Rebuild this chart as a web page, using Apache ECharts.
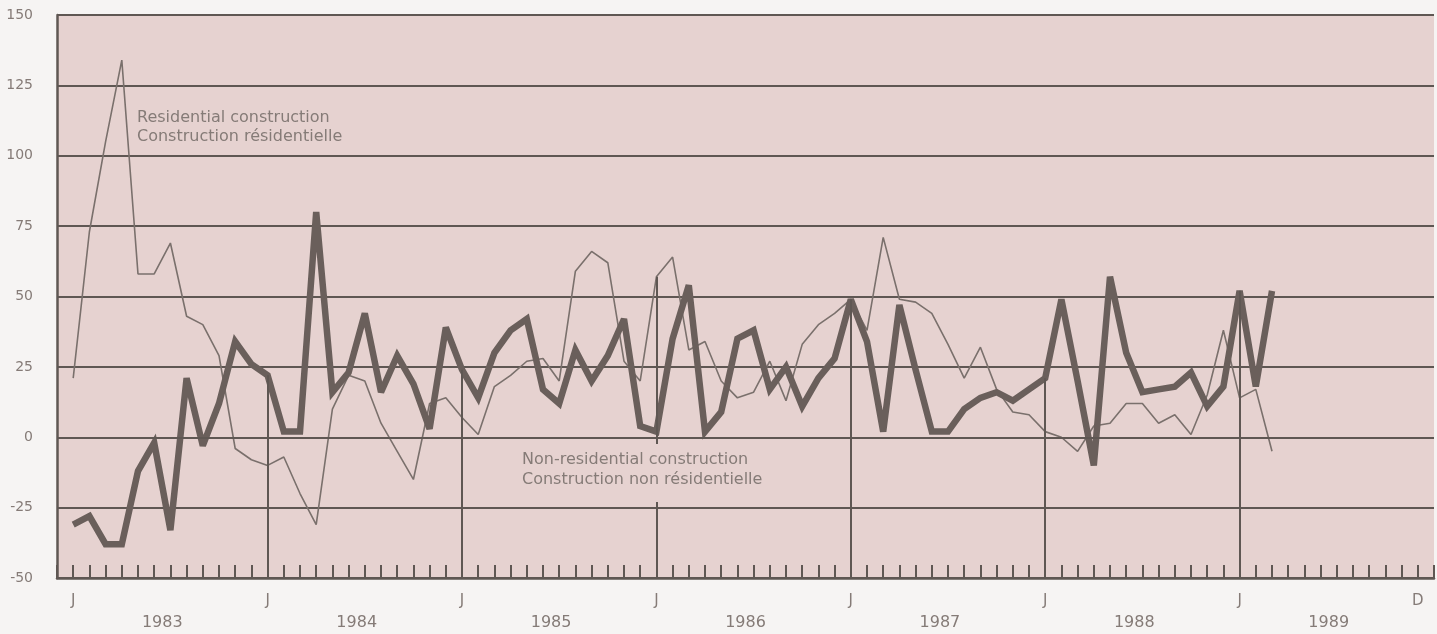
<!DOCTYPE html>
<html><head><meta charset="utf-8">
<script src="https://cdn.jsdelivr.net/npm/echarts@6/dist/echarts.min.js"></script>
<style>html,body{margin:0;padding:0;background:#f6f4f3;}#c{width:1437px;height:634px;}</style>
</head><body><div id="c"></div>
<script>
// Monthly index 0 = January 1983 ... 83 = December 1989
const years = ['1983','1984','1985','1986','1987','1988','1989'];
const residential = [
  21, 73, 105, 134, 58, 58, 69, 43, 40, 29, -4, -8,
  -10, -7, -20, -31, 10, 22, 20, 5, -5, -15, 12, 14,
  7, 1, 18, 22, 27, 28, 20, 59, 66, 62, 27, 20,
  57, 64, 31, 34, 20, 14, 16, 27, 13, 33, 40, 44,
  49, 38, 71, 49, 48, 44, 33, 21, 32, 17, 9, 8,
  2, 0, -5, 4, 5, 12, 12, 5, 8, 1, 15, 38,
  14, 17, -5
];
const nonResidential = [
  -31, -28, -38, -38, -12, -2, -33, 21, -3, 12, 34, 26,
  22, 2, 2, 80, 16, 23, 44, 16, 29, 19, 3, 39,
  24, 14, 30, 38, 42, 17, 12, 31, 20, 29, 42, 4,
  2, 35, 54, 2, 9, 35, 38, 17, 25, 11, 21, 28,
  49, 34, 2, 47, 24, 2, 2, 10, 14, 16, 13, 17,
  21, 49, 20, -10, 57, 30, 16, 17, 18, 23, 11, 18,
  52, 18, 52
];
const yMin = -50, yMax = 150, yStep = 25;
const totalMonths = years.length * 12;

const ink = '#5f5753';
const plotBg = '#e6d2d0';
const textCol = '#857b77';

const resData = residential.map((v, i) => [i, v]);
const nonData = nonResidential.map((v, i) => [i, v]);

// vertical year-start lines, from the upper of the two series down to the axis
const yearLines = [];
for (let y = 1; y < years.length; y++) {
  const m = y * 12;
  const top = Math.max(residential[m], nonResidential[m]);
  yearLines.push([{ coord: [m, top] }, { coord: [m, yMin] }]);
}

const chart = echarts.init(document.getElementById('c'));
chart.setOption({
  animation: false,
  backgroundColor: '#f6f4f3',
  grid: { left: 57, right: 0, top: 15, bottom: 56, show: true, backgroundColor: plotBg, borderWidth: 0 },
  xAxis: [
    {
      type: 'value', min: -1, max: totalMonths, interval: 1, position: 'bottom',
      axisLine: { show: true, onZero: false, lineStyle: { color: ink, width: 2.5 } },
      axisTick: { show: true, inside: true, length: 13, lineStyle: { color: ink, width: 2 } },
      splitLine: { show: false },
      axisLabel: {
        margin: 16, color: textCol, fontSize: 15, fontFamily: 'DejaVu Sans',
        formatter: v => (v >= 0 && v < totalMonths && v % 12 === 0) ? 'J' : (v === totalMonths - 1 ? 'D' : '')
      }
    },
    {
      type: 'value', min: -0.5, max: totalMonths + 0.5, interval: 0.5, position: 'bottom', offset: 0,
      axisLine: { show: false }, axisTick: { show: false }, splitLine: { show: false },
      axisLabel: {
        margin: 37, color: textCol, fontSize: 16, fontFamily: 'DejaVu Sans',
        formatter: v => { const k = (v - 6) / 12; return (Number.isInteger(k) && k >= 0 && k < years.length) ? years[k] : ''; }
      }
    }
  ],
  yAxis: {
    type: 'value', min: yMin, max: yMax, interval: yStep,
    axisLine: { show: true, onZero: false, lineStyle: { color: ink, width: 2.5 } },
    axisTick: { show: false },
    axisLabel: { margin: 24, color: textCol, fontSize: 14, fontFamily: 'DejaVu Sans' },
    splitLine: { show: true, lineStyle: { color: ink, width: 2 } }
  },
  series: [
    {
      type: 'line', data: [], silent: true, z: 2,
      markLine: {
        silent: true, symbol: 'none', label: { show: false },
        lineStyle: { color: ink, width: 2, type: 'solid' },
        data: yearLines.concat([[{ coord: [-1, 0] }, { coord: [totalMonths, 0] }]])
      }
    },
    {
      name: 'Residential', type: 'line', data: resData, symbol: 'none', z: 3,
      lineStyle: { color: '#7a706c', width: 1.6 }
    },
    {
      name: 'Non-residential', type: 'line', data: nonData, symbol: 'none', z: 4,
      lineStyle: { color: '#6a5f5b', width: 6.5, join: 'miter', miterLimit: 3 }
    }
  ],
  graphic: [
    {
      type: 'text', left: 137, top: 108, z: 100,
      style: { text: 'Residential construction\nConstruction résidentielle', fill: textCol,
               font: '16px "DejaVu Sans"', lineHeight: 19 }
    },
    {
      type: 'text', left: 519, top: 444, z: 100,
      style: { text: 'Non-residential construction\nConstruction non résidentielle', fill: textCol,
               font: '16px "DejaVu Sans"', lineHeight: 20, backgroundColor: plotBg, padding: [6, 3, 12, 3] }
    }
  ]
});
</script>
</body></html>
